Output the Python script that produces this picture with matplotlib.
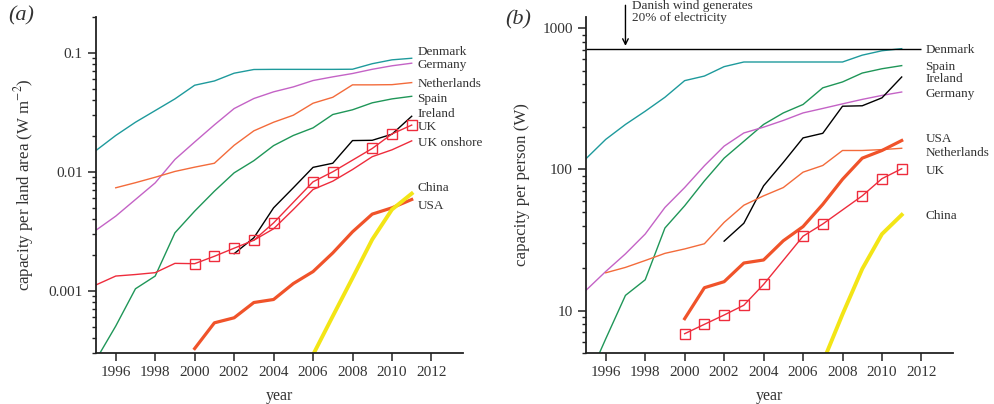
import numpy as np
import matplotlib
matplotlib.use("Agg")
import matplotlib.pyplot as plt
from matplotlib.ticker import FixedLocator, FixedFormatter, LogLocator, NullFormatter

plt.rcParams['font.family'] = ['Liberation Serif', 'DejaVu Serif']
plt.rcParams['mathtext.fontset'] = 'stix'

# ---- panel (a): capacity per land area (W m^-2) ----
years_full = list(range(1995, 2012))
denmark_a = [0.0151, 0.0202, 0.0261, 0.0327, 0.041, 0.0534, 0.058, 0.0674, 0.0724,
             0.0726, 0.0726, 0.0726, 0.0726, 0.0728, 0.081, 0.0873, 0.090]
germany_a = [0.00323, 0.00424, 0.00585, 0.00807, 0.0127, 0.0178, 0.0248, 0.034, 0.0413,
             0.047, 0.0517, 0.0585, 0.0628, 0.067, 0.0727, 0.0778, 0.0818]
years_nl = list(range(1996, 2012))
netherlands_a = [0.00734, 0.0081, 0.0090, 0.01007, 0.01094, 0.0118, 0.0167, 0.0221,
                 0.0261, 0.0299, 0.0377, 0.0423, 0.0538, 0.0538, 0.054, 0.0562]
spain_a = [0.000263, 0.000505, 0.00104, 0.00133, 0.00307, 0.00467, 0.00687, 0.0098,
           0.0124, 0.0166, 0.0202, 0.0234, 0.0303, 0.0332, 0.038, 0.041, 0.0431]
years_ie = list(range(2002, 2012))
ireland_a = [0.00205, 0.00279, 0.00498, 0.00734, 0.0109, 0.0118, 0.0183, 0.0184, 0.0207, 0.0293]
years_uk_a = [1995, 1996, 1997, 1998, 1999, 2000, 2001, 2002, 2003, 2004, 2006, 2007, 2009, 2010, 2011]
uk_a = [0.00112, 0.00133, 0.00137, 0.00142, 0.0017, 0.00169, 0.00195, 0.00228, 0.00266,
        0.00372, 0.00824, 0.0100, 0.0157, 0.0208, 0.0247]
years_onshore = list(range(2003, 2012))
uk_onshore_a = [0.00266, 0.00332, 0.00482, 0.0071, 0.00834, 0.01045, 0.0134, 0.0153, 0.0182]
years_us = list(range(2000, 2012))
usa_a = [0.000327, 0.000538, 0.000593, 0.000797, 0.000845, 0.00115, 0.00145, 0.00208,
         0.00313, 0.00441, 0.00498, 0.00585]
years_cn_a = list(range(2006, 2012))
china_a = [0.00029, 0.000612, 0.00128, 0.0027, 0.00482, 0.00656]

# ---- panel (b): capacity per person (W) ----
denmark_b = [119, 163, 208, 258, 324, 425, 458, 534, 576, 576, 576, 576, 576, 576, 644, 692, 716]
spain_b = [3.05, 6.3, 12.8, 16.5, 38.4, 55.2, 82.8, 120, 158, 208, 251, 288, 378, 416, 481, 516, 543]
germany_b = [13.9, 18.9, 25.2, 34.8, 53.7, 74.3, 106, 146, 181, 199, 222, 251, 270, 291, 313, 334, 353]
ireland_b = [31, 41.5, 76.4, 112, 167, 180, 280, 282, 321, 451]
netherlands_b = [18.5, 20.2, 22.6, 25.4, 27.3, 29.7, 42.1, 55.7, 64.9, 74.3, 95.5, 106.5,
                 136, 136, 138, 141]
usa_b = [8.75, 14.5, 16.0, 21.7, 22.8, 31.2, 39.3, 56.5, 85, 120, 136, 160]
years_uk_b = [2000, 2001, 2002, 2003, 2004, 2006, 2007, 2009, 2010, 2011]
uk_b = [6.85, 7.98, 9.29, 10.9, 15.3, 33.6, 41.0, 64.9, 85.9, 101]
years_cn_b = list(range(2007, 2012))
china_b = [4.3, 9.4, 19.7, 34.8, 47.6]

xticks = list(range(1996, 2013, 2))

# colours
c_dk = '#1e9a9c'
c_de = '#c463c6'
c_nl = '#f36b3b'
c_es = '#1f9658'
c_ie = 'black'
c_uk = '#ee2c3c'
c_us = '#f0532a'
c_cn = '#f3e516'
txt = '#333333'

fig = plt.figure(figsize=(9.94, 4.04), dpi=100)
ax1 = fig.add_axes([96/994, 1-353/404, 367/994, 336/404])
ax2 = fig.add_axes([586/994, 1-353/404, 367/994, 336/404])


def style(ax, ylim, yt, ylabels):
    ax.set_yscale('log')
    ax.set_xlim(1995, 2013.6)
    ax.set_ylim(*ylim)
    for s in ['top', 'right']:
        ax.spines[s].set_visible(False)
    for s in ['left', 'bottom']:
        ax.spines[s].set_linewidth(1.3)
        ax.spines[s].set_color('#222222')
    ax.set_xticks(xticks)
    ax.set_xticklabels([str(x) for x in xticks])
    ax.yaxis.set_major_locator(FixedLocator(yt))
    ax.yaxis.set_major_formatter(FixedFormatter(ylabels))
    ax.yaxis.set_minor_locator(LogLocator(base=10, subs=np.arange(2, 10)))
    ax.yaxis.set_minor_formatter(NullFormatter())
    ax.tick_params(which='major', direction='out', length=6, width=1.1, labelsize=11,
                   colors='#222222', labelcolor=txt)
    ax.tick_params(which='minor', direction='out', length=3, width=1.0, colors='#222222')
    ax.set_xlabel('year', fontsize=11.5, color=txt, labelpad=6)


style(ax1, (3e-4, 0.2), [0.001, 0.01, 0.1], ['0.001', '0.01', '0.1'])
style(ax2, (5, 1200), [10, 100, 1000], ['10', '100', '1000'])
ax1.set_ylabel('capacity per land area (W m$^{-2}$)', fontsize=12.2, color=txt, labelpad=9)
ax2.set_ylabel('capacity per person (W)', fontsize=12.2, color=txt, labelpad=9)

# panel (a) lines
ax1.plot(years_full, denmark_a, color=c_dk, lw=1)
ax1.plot(years_full, germany_a, color=c_de, lw=1)
ax1.plot(years_nl, netherlands_a, color=c_nl, lw=1)
ax1.plot(years_full, spain_a, color=c_es, lw=1)
ax1.plot(years_ie, ireland_a, color=c_ie, lw=1)
ax1.plot(years_onshore, uk_onshore_a, color=c_uk, lw=1)
mk_a = [i for i, y in enumerate(years_uk_a) if y >= 2000]
ax1.plot(years_uk_a, uk_a, color=c_uk, lw=1, marker='s', ms=7, mfc='none',
         mec=c_uk, mew=1, markevery=mk_a)
ax1.plot(years_us, usa_a, color=c_us, lw=2.3)
ax1.plot(years_cn_a, china_a, color=c_cn, lw=2.8)

labels_a = [('Denmark', 0.101), ('Germany', 0.0787), ('Netherlands', 0.0542),
            ('Spain', 0.0413), ('Ireland', 0.0307), ('UK', 0.0237),
            ('UK onshore', 0.0174), ('China', 0.00725), ('USA', 0.00514)]
for name, yv in labels_a:
    ax1.text(2011.3, yv, name, fontsize=9.5, color=txt, va='center', ha='left')

# panel (b) lines
ax2.plot(years_full, denmark_b, color=c_dk, lw=1)
ax2.plot(years_full, spain_b, color=c_es, lw=1)
ax2.plot(years_full, germany_b, color=c_de, lw=1)
ax2.plot(years_ie, ireland_b, color=c_ie, lw=1)
ax2.plot(years_nl, netherlands_b, color=c_nl, lw=1)
ax2.plot(years_us, usa_b, color=c_us, lw=2.3)
ax2.plot(years_uk_b, uk_b, color=c_uk, lw=1, marker='s', ms=7, mfc='none', mec=c_uk, mew=1)
ax2.plot(years_cn_b, china_b, color=c_cn, lw=2.8)
ax2.hlines(denmark_b[-1], 1995, 2012, color='black', lw=1)

labels_b = [('Denmark', 696), ('Spain', 530), ('Ireland', 440), ('Germany', 342),
            ('USA', 163), ('Netherlands', 131), ('UK', 97.5), ('China', 46.9)]
for name, yv in labels_b:
    ax2.text(2012.2, yv, name, fontsize=9.5, color=txt, va='center', ha='left')

ax2.annotate('', xy=(1997, denmark_b[-1]), xytext=(1997, 1520),
             arrowprops=dict(arrowstyle='->', color='black', lw=1), annotation_clip=False)
fig.text(632/994, 1 - 0/404, 'Danish wind generates\n20% of electricity', fontsize=9.5,
         color=txt, va='top', ha='left', linespacing=1.0)

fig.text(8/994, 1 - 16/404, '(a)', fontsize=16, style='italic', color=txt, va='center')
fig.text(505/994, 1 - 20/404, '(b)', fontsize=16, style='italic', color=txt, va='center')

fig.savefig('out.png', dpi=100)
